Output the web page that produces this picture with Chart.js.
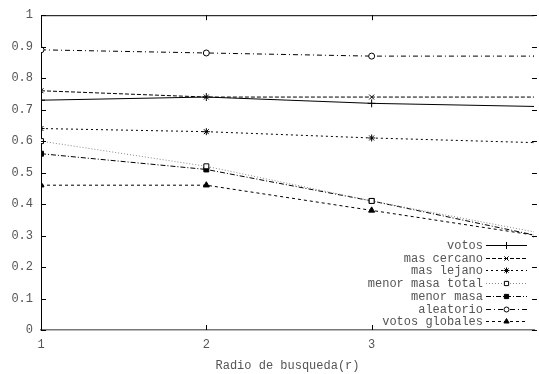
<!DOCTYPE html>
<html>
<head>
<meta charset="utf-8">
<script src="https://cdn.jsdelivr.net/npm/chart.js@4"></script>
<style>
    html, body { margin: 0; padding: 0; background: #fff; overflow: hidden; }
</style>
</head>
<body>
<canvas id="chart" width="539" height="374"></canvas>
<script>
// Data
const radios = [1, 2, 3, 4];
const xTicks = [1, 2, 3];
const votos = [0.73, 0.74, 0.72, 0.71];
const masCercano = [0.76, 0.74, 0.74, 0.74];
const masLejano = [0.64, 0.63, 0.61, 0.595];
const menorMasaTotal = [0.60, 0.52, 0.41, 0.31];
const menorMasa = [0.56, 0.51, 0.41, 0.30];
const aleatorio = [0.89, 0.88, 0.87, 0.87];
const votosGlobales = [0.46, 0.46, 0.38, 0.30];

const FONT = 'Liberation Mono, DejaVu Sans Mono, monospace';
const TEXT = '#555';

function series(label, values, style) {
    return Object.assign({
        label: label,
        data: radios.map((x, i) => ({ x: x, y: values[i] })),
        borderColor: '#000',
        borderWidth: 1,
        pointBorderColor: '#000',
        pointBorderWidth: 1,
        pointRadius: 4,
        fill: false,
        tension: 0
    }, style);
}

const datasets = [
    series('votos', votos, { borderDash: [], pointStyle: 'cross', pointBackgroundColor: '#000' }),
    series('mas cercano', masCercano, { borderDash: [4, 2], pointStyle: 'crossRot', pointRadius: 3.5 }),
    series('mas lejano', masLejano, { borderDash: [2, 3], pointStyle: 'star', pointRadius: 3.5 }),
    series('menor masa total', menorMasaTotal, { borderColor: '#888', borderDash: [1, 2], pointStyle: 'rect', pointRadius: 3.5, pointBackgroundColor: '#fff' }),
    series('menor masa', menorMasa, { borderDash: [5, 2, 1, 2], pointStyle: 'rect', pointRadius: 3.5, pointBackgroundColor: '#000' }),
    series('aleatorio', aleatorio, { borderDash: [5, 3, 1, 3], pointStyle: 'circle', pointRadius: 3, pointBackgroundColor: '#fff' }),
    series('votos globales', votosGlobales, { borderDash: [3, 3], pointStyle: 'triangle', pointRadius: 3.5, pointBackgroundColor: '#000' })
];

// Inward ticks, top border and a gnuplot-like key
const framePlugin = {
    id: 'frame',
    afterDraw(chart) {
        const ctx = chart.ctx;
        const area = chart.chartArea;
        const xs = chart.scales.x;
        const ys = chart.scales.y;
        // the plot's right border sits just past the visible window
        const rightEdge = xs.getPixelForValue(4);
        ctx.save();
        ctx.strokeStyle = '#000';
        ctx.lineWidth = 1;
        ctx.setLineDash([]);
        ctx.beginPath();
        ctx.moveTo(area.left, area.top + 0.5);
        ctx.lineTo(area.right, area.top + 0.5);
        ys.ticks.forEach(t => {
            const y = Math.round(ys.getPixelForValue(t.value)) + 0.5;
            ctx.moveTo(area.left, y);
            ctx.lineTo(area.left + 5, y);
            ctx.moveTo(rightEdge, y);
            ctx.lineTo(rightEdge - 5, y);
        });
        xTicks.forEach(v => {
            const x = Math.round(xs.getPixelForValue(v)) + 0.5;
            ctx.moveTo(x, area.bottom);
            ctx.lineTo(x, area.bottom - 5);
            ctx.moveTo(x, area.top);
            ctx.lineTo(x, area.top + 5);
        });
        ctx.stroke();

        // key
        const textRight = 483;
        const x0 = 486, x1 = 527;
        const rowTop = 245, rowStep = 12.7;
        ctx.font = '12px ' + FONT;
        ctx.textAlign = 'right';
        ctx.textBaseline = 'middle';
        chart.data.datasets.forEach((ds, i) => {
            const y = Math.round(rowTop + i * rowStep) + 0.5;
            ctx.fillStyle = TEXT;
            ctx.fillText(ds.label, textRight, y);
            ctx.strokeStyle = ds.borderColor;
            ctx.setLineDash(ds.borderDash || []);
            ctx.beginPath();
            ctx.moveTo(x0, y);
            ctx.lineTo(x1, y);
            ctx.stroke();
            ctx.setLineDash([]);
            ctx.strokeStyle = '#000';
            ctx.fillStyle = ds.pointBackgroundColor || '#000';
            Chart.helpers.drawPoint(ctx, {
                pointStyle: ds.pointStyle,
                radius: ds.pointRadius - 0.5,
                rotation: 0,
                borderWidth: 1
            }, (x0 + x1) / 2, y);
        });
        ctx.restore();
    }
};

new Chart(document.getElementById('chart'), {
    type: 'line',
    data: { datasets: datasets },
    options: {
        responsive: false,
        animation: false,
        layout: { padding: { top: 10, right: 0, left: 0, bottom: 0 } },
        plugins: {
            legend: { display: false },
            tooltip: { enabled: false }
        },
        scales: {
            x: {
                type: 'linear',
                min: 1,
                max: 3.982,
                grid: { display: false, drawTicks: false },
                border: { display: true, color: '#777', width: 1.5 },
                afterBuildTicks: function (scale) {
                    scale.ticks = xTicks.map(v => ({ value: v }));
                },
                afterFit: function (scale) { scale.height = 44; },
                ticks: {
                    color: TEXT,
                    padding: 8,
                    maxRotation: 0,
                    font: { family: FONT, size: 12 }
                },
                title: {
                    display: true,
                    text: 'Radio de busqueda(r)',
                    color: TEXT,
                    padding: { top: 0, bottom: 1 },
                    font: { family: FONT, size: 12 }
                }
            },
            y: {
                min: 0,
                max: 1,
                grid: { display: false, drawTicks: false },
                border: { display: true, color: '#000', width: 1 },
                afterFit: function (scale) { scale.width = 41; },
                ticks: {
                    stepSize: 0.1,
                    color: TEXT,
                    padding: 8,
                    font: { family: FONT, size: 12 },
                    callback: function (value) {
                        return String(Number(value.toFixed(1)));
                    }
                }
            }
        }
    },
    plugins: [framePlugin]
});
</script>
</body>
</html>
